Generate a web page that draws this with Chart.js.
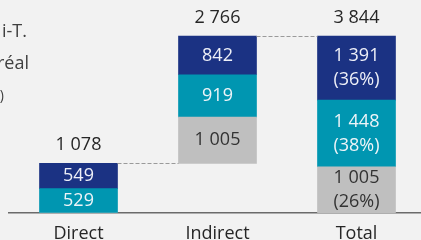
<!DOCTYPE html>
<html>
<head>
<meta charset="utf-8">
<script src="https://cdn.jsdelivr.net/npm/chart.js@4.4.1/dist/chart.umd.min.js"></script>
<style>
  html, body { margin: 0; padding: 0; background: #f2f2f2; overflow: hidden; }
  #wrap { width: 426px; height: 240px; position: relative; }
</style>
</head>
<body>
<div id="wrap"><canvas id="chart"></canvas></div>
<script>
// data
var categories = ['Direct', 'Indirect', 'Total'];
var baseValues = [0, 1078, 0];        // where each stack starts (waterfall)
var grayValues = [0, 1005, 1005];
var tealValues = [529, 919, 1448];
var navyValues = [549, 842, 1391];
var sideNotes = ['i-T.', 'réal', ')'];  // cut-off text at the left edge

var colGray = '#bfbfbf', colTeal = '#0096b1', colNavy = '#1b3283';
var fontFam = '"Open Sans", "DejaVu Sans", sans-serif';

function fmt(v) {
	return String(v).replace(/\B(?=(\d{3})+(?!\d))/g, ' ');
}

// floating ranges
var grayRanges = [], tealRanges = [], navyRanges = [], totals = [];
for (var i = 0; i < categories.length; i++) {
	var b = baseValues[i];
	grayRanges.push([b, b + grayValues[i]]);
	tealRanges.push([b + grayValues[i], b + grayValues[i] + tealValues[i]]);
	navyRanges.push([b + grayValues[i] + tealValues[i], b + grayValues[i] + tealValues[i] + navyValues[i]]);
	totals.push(grayValues[i] + tealValues[i] + navyValues[i]);
}

var labelPlugin = {
	id: 'labels',
	afterDatasetsDraw: function(chart) {
		var ctx = chart.ctx;
		ctx.save();
		ctx.font = '18px ' + fontFam;
		ctx.textAlign = 'center';
		ctx.textBaseline = 'middle';
		var lastIdx = categories.length - 1;
		var sets = [grayValues, tealValues, navyValues];
		var txtCol = ['#333333', '#eef4f8', '#eef0f8'];
		for (var d = 0; d < 3; d++) {
			var meta = chart.getDatasetMeta(d);
			meta.data.forEach(function(bar, idx) {
				var v = sets[d][idx];
				if (!v) return;
				var cy = (bar.y + bar.base) / 2;
				ctx.fillStyle = txtCol[d];
				if (idx === lastIdx) {
					var pct = Math.round(v / totals[idx] * 100) + '%';
					ctx.fillText(fmt(v), bar.x, cy - 12);
					ctx.fillText('(' + pct + ')', bar.x, cy + 12);
				} else {
					ctx.fillText(fmt(v), bar.x, cy);
				}
			});
		}
		// stack totals above bars
		var top = chart.getDatasetMeta(2);
		ctx.fillStyle = '#262626';
		top.data.forEach(function(bar, idx) {
			ctx.fillText(fmt(totals[idx]), bar.x, bar.y - 18);
		});
		// dashed connectors
		ctx.strokeStyle = '#9a9a9a';
		ctx.lineWidth = 1;
		ctx.setLineDash([4, 2]);
		for (var k = 0; k < lastIdx; k++) {
			var a = top.data[k], n = top.data[k + 1];
			ctx.beginPath();
			ctx.moveTo(a.x + a.width / 2, Math.round(a.y) + 0.5);
			ctx.lineTo(n.x - n.width / 2, Math.round(a.y) + 0.5);
			ctx.stroke();
		}
		ctx.setLineDash([]);
		// clipped side notes
		ctx.fillStyle = '#404040';
		ctx.textAlign = 'right';
		ctx.font = '18px ' + fontFam;
		ctx.fillText(sideNotes[0], 27, 32);
		ctx.fillText(sideNotes[1], 29, 64);
		ctx.font = '14px ' + fontFam;
		ctx.fillText(sideNotes[2], 4, 96);
		ctx.restore();
	}
};

var ctx = document.getElementById('chart').getContext('2d');
new Chart(ctx, {
	type: 'bar',
	data: {
		labels: categories,
		datasets: [
			{ data: grayRanges, backgroundColor: colGray },
			{ data: tealRanges, backgroundColor: colTeal },
			{ data: navyRanges, backgroundColor: colNavy }
		]
	},
	options: {
		responsive: true,
		maintainAspectRatio: false,
		animation: false,
		layout: { padding: { left: 9, right: 0, top: 0, bottom: 0 } },
		datasets: { bar: { grouped: false, barThickness: 78, borderSkipped: false } },
		plugins: { legend: { display: false }, tooltip: { enabled: false } },
		scales: {
			x: {
				grid: { display: false },
				border: { display: true, color: '#6b6b6b', width: 1.5 },
				ticks: { color: '#262626', font: { size: 18, family: fontFam }, padding: 2 },
				afterFit: function(scale) { scale.height = 27; }
			},
			y: { display: false, min: 0, max: 4626 }
		}
	},
	plugins: [labelPlugin]
});
</script>
</body>
</html>
